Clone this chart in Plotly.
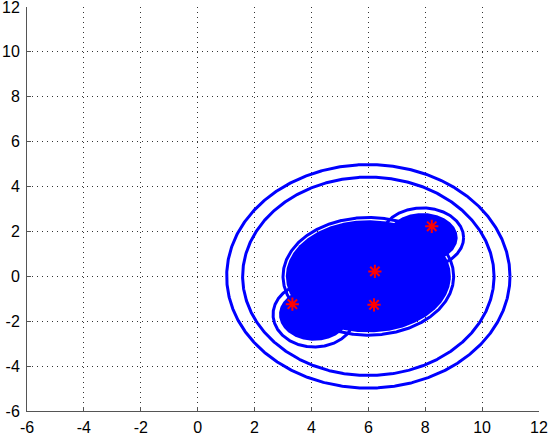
import numpy as np
import plotly.graph_objects as go

# ---- data ----
# outer orbit rings (circles centred on the system)
ring_cx = [6.0, 6.0]
ring_cy = [0.0, 0.0]
ring_r = [4.98, 4.42]

# ellipses forming the dense blob: main, upper-right, lower-left
ell_cx = [6.0, 7.9, 4.1]
ell_cy = [0.0, 1.72, -1.7]
ell_ax_outline = [3.0, 1.45, 1.45]
ell_ay_outline = [2.62, 1.33, 1.45]
ell_ax_fill = [2.9, 1.24, 1.24]
ell_ay_fill = [2.5, 1.1, 1.17]

# red asterisk points
star_x = [3.33, 6.23, 6.2, 8.23]
star_y = [-1.24, 0.22, -1.27, 2.23]

tick_vals = [-6, -4, -2, 0, 2, 4, 6, 8, 10, 12]
tick_text = [str(v) for v in tick_vals]

BLUE = "#0000ff"
t = np.linspace(0, 2 * np.pi, 721)

fig = go.Figure()

for cx, cy, r in zip(ring_cx, ring_cy, ring_r):
    fig.add_trace(go.Scatter(x=cx + r * np.cos(t), y=cy + r * np.sin(t), mode="lines",
                             line=dict(color=BLUE, width=3), hoverinfo="skip", showlegend=False))

for cx, cy, ax_, ay_ in zip(ell_cx, ell_cy, ell_ax_outline, ell_ay_outline):
    fig.add_trace(go.Scatter(x=cx + ax_ * np.cos(t), y=cy + ay_ * np.sin(t), mode="lines",
                             line=dict(color=BLUE, width=3), hoverinfo="skip", showlegend=False))

for cx, cy, ax_, ay_ in zip(ell_cx, ell_cy, ell_ax_fill, ell_ay_fill):
    fig.add_trace(go.Scatter(x=cx + ax_ * np.cos(t), y=cy + ay_ * np.sin(t), mode="lines",
                             fill="toself", fillcolor=BLUE,
                             line=dict(color=BLUE, width=0), hoverinfo="skip", showlegend=False))

fig.add_trace(go.Scatter(x=star_x, y=star_y, mode="markers",
                         marker=dict(symbol="asterisk-open", size=11, color="#ff0000",
                                     line=dict(color="#ff0000", width=2)),
                         hoverinfo="skip", showlegend=False))

axis_common = dict(
    range=[-6, 12], tickmode="array", tickvals=tick_vals, ticktext=tick_text,
    showgrid=True, gridcolor="#333333", gridwidth=1, griddash="1px,4px",
    zeroline=False, showline=True, linecolor="#555555", linewidth=1,
    ticks="inside", ticklen=4, tickcolor="#555555", mirror=False,
    tickfont=dict(family="Liberation Sans, Arial, sans-serif", size=16, color="#000000"),
    ticklabeloverflow="allow",
    automargin=False, fixedrange=True,
)

fig.update_layout(
    width=550, height=436,
    margin=dict(l=27, r=11, t=7, b=25),
    paper_bgcolor="white", plot_bgcolor="white",
    xaxis=dict(**axis_common, ticklabelstandoff=2),
    yaxis=dict(**axis_common, ticklabelstandoff=3),
    showlegend=False,
)

fig.write_html("out.html", config={"displayModeBar": False},
               post_script="document.body.style.margin='0';document.body.style.overflow='hidden';")
